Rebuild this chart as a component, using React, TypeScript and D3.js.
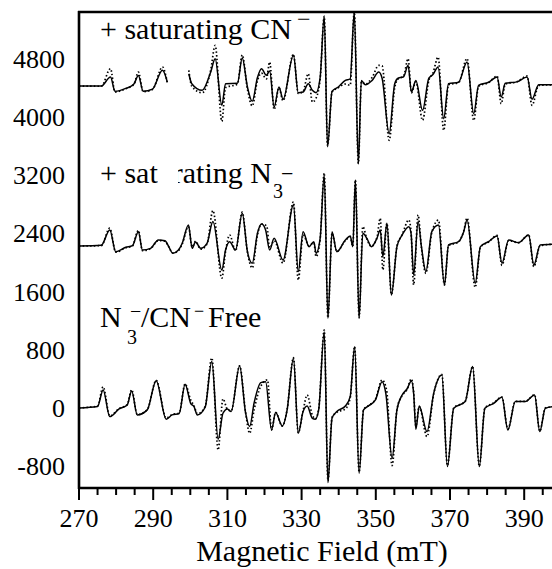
import React from "react";
import * as d3 from "d3";

type Pt = [number, number | null];

// ---- axis ticks ----
const xTickValues = [270, 275, 280, 285, 290, 295, 300, 305, 310, 315, 320, 325, 330, 335, 340, 345, 350, 355, 360, 365, 370, 375, 380, 385, 390, 395];
const xTickLabels = [270, 290, 310, 330, 350, 370, 390];
const yTickLabels = [4800, 4000, 3200, 2400, 1600, 800, 0, -800];

// ---- spectra: [field (mT), intensity] ----
const cnExp: Pt[] = [
  [270, 4423], [276, 4423], [278.5, 4547], [279.7, 4350], [282.6, 4390], [284.8, 4450], [286, 4569], [287.3, 4350],
  [289.8, 4380], [292.5, 4638], [293.8, 4478], [296, null], [299.6, 4592], [300.4, 4455], [303.2, 4364], [305.5, 4615],
  [306.7, 4798], [308.5, 4158], [309.5, 4455], [312.7, 4460], [314, 4808], [315.4, 4410], [316.7, 4213], [318.1, 4540],
  [319.2, 4661], [320.5, 4570], [321.4, 4630], [322.6, 4135], [323.9, 4410], [325, 4240], [327.8, 4845], [329.1, 4331],
  [330.4, 4340], [331.8, 4455], [332.9, 4364], [333.9, 4331], [335, 4540], [336.1, 5380], [337, 3589], [338.2, 4350],
  [339.9, 4410], [341.8, 4500], [343.1, 4520], [344.2, 5440], [345.3, 3352], [346.1, 4500], [347.2, 4440], [349, 4500],
  [350.8, 4615], [351.7, 4530], [353.6, 3768], [355.1, 4455], [356, 4530], [357.5, 4550], [358.7, 4707], [359.6, 4341],
  [360.8, 4500], [362.6, 4089], [364.3, 4530], [365.4, 4580], [366.8, 4684], [368.3, 3974], [369.6, 4455], [372.3, 4475],
  [374.6, 4753], [376.4, 4043], [377.7, 4432], [380.4, 4475], [382.7, 4547], [383.8, 4272], [384.9, 4460], [388, 4480],
  [390.8, 4547], [392.1, 4240], [393.9, 4440], [398, 4441],
];
const cnSim: Pt[] = [
  [270, 4423], [276, 4420], [278.5, 4661], [279.7, 4340], [282.6, 4385], [284.8, 4445], [286, 4615], [287.3, 4345],
  [289.8, 4375], [292.5, 4684], [293.8, 4470], [296, null], [299.6, 4638], [300.4, 4420], [303.2, 4330], [305.5, 4640],
  [306.7, 4981], [308.5, 3938], [309.5, 4400], [312.7, 4450], [314, 4850], [315.4, 4380], [316.7, 4150], [318.1, 4500],
  [319.2, 4600], [320.5, 4520], [321.4, 4753], [322.6, 4100], [323.9, 4400], [325, 4220], [327.8, 4860], [329.1, 4320],
  [330.4, 4350], [331.8, 4592], [332.9, 4203], [333.9, 4258], [335, 4520], [336.1, 5380], [337, 3600], [338.2, 4340],
  [339.9, 4400], [341.8, 4450], [343.1, 4432], [344.2, 5440], [345.3, 3360], [346.1, 4480], [347.2, 4450], [349, 4540],
  [350.8, 4707], [351.7, 4700], [353.6, 3677], [355.1, 4400], [356, 4520], [357.5, 4560], [358.7, 4798], [359.6, 4330],
  [360.8, 4480], [362.6, 3952], [364.3, 4500], [365.4, 4600], [366.8, 4821], [368.3, 3814], [369.6, 4440], [372.3, 4470],
  [374.6, 4800], [376.4, 3950], [377.7, 4420], [380.4, 4470], [382.7, 4560], [383.8, 4180], [384.9, 4450], [388, 4480],
  [390.8, 4560], [392.1, 4158], [393.9, 4430], [398, 4441],
];

const n3Exp: Pt[] = [
  [270, 2225], [276, 2235], [278.3, 2445], [279.9, 2147], [282.6, 2207], [284.4, 2230], [286, 2422], [287.1, 2170],
  [289.3, 2193], [291.4, 2308], [293.2, 2298], [294.1, 2225], [295.3, 2125], [296.8, 2170], [297.8, 2260], [299.5, 2514],
  [300.5, 2193], [301.4, 2280], [302.8, 2193], [304.5, 2260], [306.1, 2560], [308.5, 1896], [309.5, 2170], [310.6, 2285],
  [312.2, 2170], [314, 2674], [315.4, 2147], [316.7, 1988], [318.1, 2400], [319.2, 2527], [320.3, 2445], [321.4, 2170],
  [322.6, 2330], [325, 2033], [327.8, 2788], [329.1, 1873], [330.4, 2422], [332, 2215], [333.3, 2285], [333.9, 2125],
  [335, 2330], [336.1, 3201], [337.1, 1232], [338.2, 2422], [339.5, 2147], [341.8, 2308], [343.1, 2363], [343.8, 2216],
  [344.5, 3132], [345.5, 1232], [346.5, 2400], [347.6, 2330], [348.8, 2216], [350.3, 2330], [351.2, 2445], [351.9, 2079],
  [353, 2537], [354.2, 1552], [355.7, 2216], [357.1, 2376], [358.9, 2491], [359.5, 2400], [360.2, 1827], [361.4, 2560],
  [362.3, 2216], [363.5, 1873], [365.1, 2422], [366.9, 2514], [368.5, 1690], [369.6, 2239], [372.3, 2285], [373.7, 2422],
  [374.6, 2582], [376.8, 1713], [378.2, 2216], [380.4, 2285], [382.7, 2363], [384, 1988], [385.8, 2308], [388.5, 2270],
  [391.2, 2376], [392.6, 1964], [394.3, 2239], [398, 2250],
];
const n3Sim: Pt[] = [
  [270, 2225], [276, 2230], [278.3, 2470], [279.9, 2140], [282.6, 2200], [284.4, 2225], [286, 2440], [287.1, 2160],
  [289.3, 2190], [291.4, 2300], [293.2, 2290], [294.1, 2220], [295.3, 2130], [296.8, 2160], [297.8, 2250], [299.5, 2490],
  [300.5, 2210], [301.4, 2290], [302.8, 2180], [304.5, 2250], [306.1, 2711], [308.5, 1782], [309.5, 2150], [310.6, 2376],
  [312.2, 2160], [314, 2690], [315.4, 2140], [316.7, 1923], [318.1, 2380], [319.2, 2527], [320.6, 2500], [321.4, 2200],
  [322.6, 2300], [325, 1990], [327.8, 2830], [329.1, 1758], [330.4, 2380], [332, 2230], [333.3, 2270], [333.9, 2079],
  [335, 2320], [336.1, 3230], [337.1, 1240], [338.2, 2400], [339.5, 2150], [341.8, 2300], [343.1, 2350], [343.8, 2220],
  [344.5, 3132], [345.5, 1240], [346.5, 2491], [347.6, 2320], [348.8, 2220], [350.3, 2340], [351.2, 2606], [351.9, 1896],
  [353, 2537], [354.2, 1560], [355.7, 2220], [357.1, 2380], [358.9, 2582], [359.5, 2420], [360.2, 1690], [361.4, 2651],
  [362.3, 2200], [363.5, 1850], [365.1, 2410], [366.9, 2580], [368.5, 1690], [369.6, 2230], [372.3, 2280], [373.7, 2430],
  [374.6, 2610], [376.8, 1658], [378.2, 2210], [380.4, 2280], [382.7, 2370], [384, 1960], [385.8, 2300], [388.5, 2270],
  [391.2, 2380], [392.6, 1940], [394.3, 2230], [398, 2250],
];

const freeExp: Pt[] = [
  [270, 0], [275, 20], [276.5, 247], [278.3, -119], [280.8, -14], [283, 41], [284.2, 234], [285.7, -96],
  [288.4, -27], [290.8, 375], [293.5, -155], [295.1, -96], [297, -76], [298.6, 325], [300.1, 64], [301, 18],
  [301.9, -96], [304, 9], [305.8, 637], [307.5, -430], [308.8, -73], [310, -14], [311, -50], [313.3, 577],
  [314.9, -69], [316, -256], [317.2, 69], [319, 348], [320.3, 361], [321.9, -302], [323, -64], [324.8, -247],
  [326.1, -27], [327.8, 682], [329.1, -348], [330.4, -50], [331.5, 27], [332.9, -142], [333.7, -155], [334.6, -27],
  [336.1, 1048], [337.1, -1026], [338.2, -142], [339.5, -50], [341.8, 27], [343.1, 156], [344.3, 842], [345.5, -897],
  [346.7, -27], [348, 27], [349.9, 110], [351.7, 361], [352.7, 201], [354.4, -691], [355.7, -27], [357.1, 178],
  [358.4, 260], [359.6, 371], [360.2, 201], [360.8, -293], [361.7, 27], [363.8, -325], [365.6, 201], [367.8, 453],
  [369.3, -806], [371, -5], [374.1, 87], [376.1, 568], [377.9, -806], [379.4, -5], [381.8, 64], [384, 147],
  [385.6, -302], [387.6, 87], [390.3, 87], [392.8, 178], [394.2, -325], [395.7, -5], [398, 18],
];
const freeSim: Pt[] = [
  [270, 0], [275, 25], [276.5, 290], [278.3, -110], [280.8, -10], [283, 45], [284.2, 250], [285.7, -90],
  [288.4, -25], [290.8, 380], [293.5, -140], [295.1, -90], [297, -70], [298.6, 330], [300.1, 110], [301, 30],
  [301.9, -80], [304, 20], [305.8, 687], [307.5, -577], [308.8, 124], [310, -20], [311, -40], [313.3, 580],
  [314.9, -60], [316, -348], [317.2, -27], [319, 300], [320.8, 385], [321.9, -302], [323, -60], [324.8, -250],
  [326.1, -20], [327.8, 690], [329.1, -340], [330.4, -40], [331.5, 178], [332.9, -100], [333.7, -150], [334.6, -20],
  [336.1, 1070], [337.1, -1000], [338.2, -130], [339.5, -60], [341.8, -14], [343.1, 140], [344.3, 842], [345.5, -880],
  [346.7, -20], [348, 30], [349.9, 120], [351.7, 385], [352.9, 247], [354.4, -793], [355.7, -20], [357.1, 170],
  [358.4, 250], [359.6, 400], [360.2, 220], [360.8, -250], [361.7, 20], [363.8, -394], [365.6, 190], [367.8, 460],
  [369.3, -790], [371, 0], [374.1, 90], [376.1, 570], [377.9, -800], [379.4, 0], [381.8, 70], [384, 150],
  [385.6, -290], [387.6, 90], [390.3, 90], [392.8, 180], [394.2, -320], [395.7, 0], [398, 18],
];

const W = 552;
const H = 569;
const left = 79;
const top = 12;
const bottom = 488;

export default function App() {
  const x = d3.scaleLinear().domain([270, 400]).range([left, left + 3.71 * 130]);
  const y = d3.scaleLinear().domain([-1100, 5440]).range([bottom, top]);
  const line = d3
    .line<Pt>()
    .defined((d) => d[1] !== null)
    .curve(d3.curveMonotoneX)
    .x((d) => x(d[0]))
    .y((d) => y(d[1] as number));

  const font = "'Liberation Serif', 'Times New Roman', serif";
  const series = [
    { exp: cnExp, sim: cnSim },
    { exp: n3Exp, sim: n3Sim },
    { exp: freeExp, sim: freeSim },
  ];

  return (
    <svg
      width={W}
      height={H}
      style={{ position: "absolute", left: 0, top: 0, background: "#fff" }}
      fontFamily={font}
    >
      <rect x={0} y={0} width={W} height={H} fill="#fff" />
      <defs>
        <clipPath id="plot">
          <rect x={left} y={top} width={W - left} height={bottom - top} />
        </clipPath>
      </defs>

      <g clipPath="url(#plot)">
        {series.map((s, i) => (
          <g key={i}>
            <path d={line(s.sim) || ""} fill="none" stroke="#000" strokeWidth={1.7} strokeDasharray="1.5 2.2" />
            <path d={line(s.exp) || ""} fill="none" stroke="#000" strokeWidth={1.5} strokeLinejoin="round" />
          </g>
        ))}
      </g>

      {/* frame */}
      <line x1={left} x2={left} y1={top - 1} y2={bottom + 1} stroke="#000" strokeWidth={2.6} />
      <line x1={left - 1} x2={W} y1={bottom} y2={bottom} stroke="#000" strokeWidth={2.6} />
      <line x1={left - 1} x2={W} y1={top} y2={top} stroke="#000" strokeWidth={2.4} />

      {/* x ticks */}
      {xTickValues.map((v) => {
        const major = xTickLabels.includes(v);
        return (
          <line key={v} x1={x(v)} x2={x(v)} y1={bottom} y2={bottom + (major ? 12 : 7)} stroke="#000" strokeWidth={2} />
        );
      })}
      {xTickLabels.map((v) => (
        <text key={v} x={x(v)} y={527} fontSize={26} textAnchor="middle" fill="#000">
          {v}
        </text>
      ))}
      {yTickLabels.map((v) => (
        <text key={v} x={65} y={y(v)} dy="0.35em" fontSize={26} textAnchor="end" fill="#000">
          {v}
        </text>
      ))}

      <text x={322} y={561} fontSize={30} textAnchor="middle" fill="#000">
        Magnetic Field (mT)
      </text>

      {/* panel labels */}
      <text x={100} y={39} fontSize={30} fill="#000">+ saturating CN</text>
      <text x={297} y={27} fontSize={24} fill="#000">−</text>

      <text x={100} y={183} fontSize={30} fill="#000">+ saturating N</text>
      <rect x={158} y={160} width={20} height={28} fill="#fff" />
      <text x={273} y={198} fontSize={20} fill="#000">3</text>
      <text x={281} y={181} fontSize={22} fill="#000">−</text>

      <text x={100} y={327} fontSize={30} fill="#000">N</text>
      <text x={127} y={344} fontSize={20} fill="#000">3</text>
      <text x={130} y={318} fontSize={20} fill="#000">−</text>
      <text x={141} y={327} fontSize={30} fill="#000">/CN</text>
      <text x={194} y={317} fontSize={18} fill="#000">−</text>
      <text x={208} y={327} fontSize={30} fill="#000">Free</text>
    </svg>
  );
}
